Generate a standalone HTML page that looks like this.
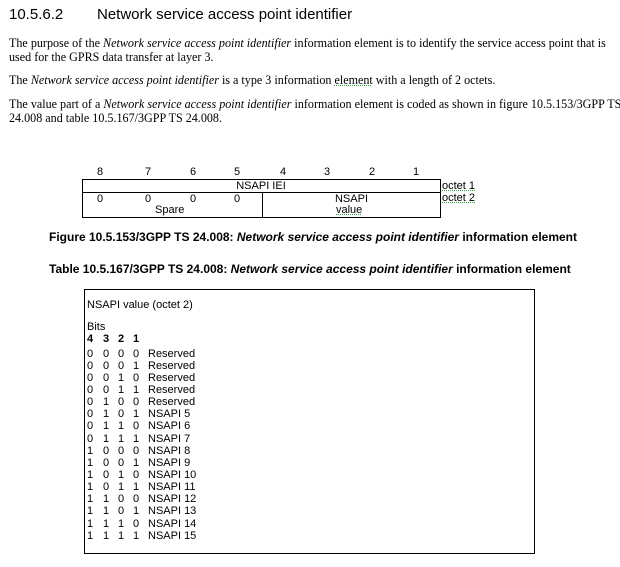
<!DOCTYPE html>
<html><head><meta charset="utf-8"><style>
body{margin:0;background:#fff;width:620px;height:567px;position:relative;overflow:hidden;color:#000}
.a{position:absolute;white-space:nowrap}
.s{font-family:"Liberation Sans",Arial,sans-serif}
.t{font-family:"Liberation Serif","Times New Roman",serif;font-size:12.1px}
.r{font-family:"Liberation Sans",Arial,sans-serif;font-size:11px;line-height:12px}
.u{text-decoration:underline dotted #3a3;text-decoration-thickness:1px}
.row{position:absolute;left:0;height:12px;font-family:"Liberation Sans",Arial,sans-serif;font-size:11px;line-height:12px;white-space:nowrap}
.row span{position:absolute;white-space:nowrap}
</style></head><body>
<div class="a s" style="left:9px;top:6px;font-size:15px">10.5.6.2</div>
<div class="a s" style="left:97px;top:6px;font-size:15px">Network service access point identifier</div>
<div class="a t" style="left:9px;top:36px">The purpose of the <i>Network service access point identifier</i> information element is to identify the service access point that is</div>
<div class="a t" style="left:9px;top:50px">used for the GPRS data transfer at layer 3.</div>
<div class="a t" style="left:9px;top:73px">The <i>Network service access point identifier</i> is a type 3 information <span class="u">element</span> with a length of 2 octets.</div>
<div class="a t" style="left:9px;top:97px">The value part of a <i>Network service access point identifier</i> information element is coded as shown in figure 10.5.153/3GPP TS</div>
<div class="a t" style="left:9px;top:111px">24.008 and table 10.5.167/3GPP TS 24.008.</div>

<div class="r a" style="left:97px;top:166px">8</div>
<div class="r a" style="left:145px;top:166px">7</div>
<div class="r a" style="left:190px;top:166px">6</div>
<div class="r a" style="left:234px;top:166px">5</div>
<div class="r a" style="left:280px;top:166px">4</div>
<div class="r a" style="left:324px;top:166px">3</div>
<div class="r a" style="left:369px;top:166px">2</div>
<div class="r a" style="left:413px;top:166px">1</div>
<div class="a" style="left:82px;top:179px;width:357px;height:37px;border:1px solid #000"></div>
<div class="a" style="left:82px;top:192px;width:358px;height:0;border-top:1px solid #000"></div>
<div class="a" style="left:262px;top:192px;width:0;height:25px;border-left:1px solid #000"></div>
<div class="r a" style="left:82px;top:180px;width:358px;text-align:center">NSAPI IEI</div>
<div class="r a" style="left:97px;top:193px">0</div>
<div class="r a" style="left:145px;top:193px">0</div>
<div class="r a" style="left:190px;top:193px">0</div>
<div class="r a" style="left:234px;top:193px">0</div>
<div class="r a" style="left:155px;top:204px">Spare</div>
<div class="r a" style="left:263px;top:193px;width:177px;text-align:center">NSAPI</div>
<div class="r a u" style="left:336px;top:204px">value</div>
<div class="r a u" style="left:442px;top:180px">octet 1</div>
<div class="r a u" style="left:442px;top:192px">octet 2</div>

<div class="a s" style="left:49px;top:230px;font-size:12px;font-weight:bold">Figure 10.5.153/3GPP TS 24.008: <i>Network service access point identifier</i> information element</div>
<div class="a s" style="left:49px;top:262px;font-size:12px;font-weight:bold">Table 10.5.167/3GPP TS 24.008: <i>Network service access point identifier</i> information element</div>

<div class="a" style="left:84px;top:289px;width:449px;height:263px;border:1px solid #000"></div>
<div class="r a" style="left:87px;top:299px">NSAPI value (octet 2)</div>
<div class="r a" style="left:87px;top:321px">Bits</div>
<div class="row" style="top:333px;font-weight:bold"><span style="left:87px">4</span><span style="left:103px">3</span><span style="left:118px">2</span><span style="left:133px">1</span></div>
<div class="row" style="top:348px"><span style="left:87px">0</span><span style="left:103px">0</span><span style="left:118px">0</span><span style="left:133px">0</span><span style="left:148px">Reserved</span></div>
<div class="row" style="top:360px"><span style="left:87px">0</span><span style="left:103px">0</span><span style="left:118px">0</span><span style="left:133px">1</span><span style="left:148px">Reserved</span></div>
<div class="row" style="top:372px"><span style="left:87px">0</span><span style="left:103px">0</span><span style="left:118px">1</span><span style="left:133px">0</span><span style="left:148px">Reserved</span></div>
<div class="row" style="top:384px"><span style="left:87px">0</span><span style="left:103px">0</span><span style="left:118px">1</span><span style="left:133px">1</span><span style="left:148px">Reserved</span></div>
<div class="row" style="top:396px"><span style="left:87px">0</span><span style="left:103px">1</span><span style="left:118px">0</span><span style="left:133px">0</span><span style="left:148px">Reserved</span></div>
<div class="row" style="top:408px"><span style="left:87px">0</span><span style="left:103px">1</span><span style="left:118px">0</span><span style="left:133px">1</span><span style="left:148px">NSAPI 5</span></div>
<div class="row" style="top:420px"><span style="left:87px">0</span><span style="left:103px">1</span><span style="left:118px">1</span><span style="left:133px">0</span><span style="left:148px">NSAPI 6</span></div>
<div class="row" style="top:433px"><span style="left:87px">0</span><span style="left:103px">1</span><span style="left:118px">1</span><span style="left:133px">1</span><span style="left:148px">NSAPI 7</span></div>
<div class="row" style="top:445px"><span style="left:87px">1</span><span style="left:103px">0</span><span style="left:118px">0</span><span style="left:133px">0</span><span style="left:148px">NSAPI 8</span></div>
<div class="row" style="top:457px"><span style="left:87px">1</span><span style="left:103px">0</span><span style="left:118px">0</span><span style="left:133px">1</span><span style="left:148px">NSAPI 9</span></div>
<div class="row" style="top:469px"><span style="left:87px">1</span><span style="left:103px">0</span><span style="left:118px">1</span><span style="left:133px">0</span><span style="left:148px">NSAPI 10</span></div>
<div class="row" style="top:481px"><span style="left:87px">1</span><span style="left:103px">0</span><span style="left:118px">1</span><span style="left:133px">1</span><span style="left:148px">NSAPI 11</span></div>
<div class="row" style="top:493px"><span style="left:87px">1</span><span style="left:103px">1</span><span style="left:118px">0</span><span style="left:133px">0</span><span style="left:148px">NSAPI 12</span></div>
<div class="row" style="top:505px"><span style="left:87px">1</span><span style="left:103px">1</span><span style="left:118px">0</span><span style="left:133px">1</span><span style="left:148px">NSAPI 13</span></div>
<div class="row" style="top:518px"><span style="left:87px">1</span><span style="left:103px">1</span><span style="left:118px">1</span><span style="left:133px">0</span><span style="left:148px">NSAPI 14</span></div>
<div class="row" style="top:530px"><span style="left:87px">1</span><span style="left:103px">1</span><span style="left:118px">1</span><span style="left:133px">1</span><span style="left:148px">NSAPI 15</span></div>
</body></html>
